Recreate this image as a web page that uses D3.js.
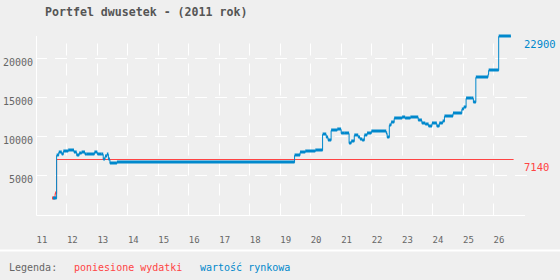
<!DOCTYPE html>
<html>
<head>
<meta charset="utf-8">
<script src="https://cdn.jsdelivr.net/npm/d3@7"></script>
<style>
  body { margin: 0; background: #efefef; }
  svg { display: block; font-family: "DejaVu Sans Mono", monospace; }
</style>
</head>
<body>
<div id="chart"></div>
<script>
const width = 560;
const height = 280;

const title = "Portfel dwusetek - (2011 rok)";
const weekTicks = [11, 12, 13, 14, 15, 16, 17, 18, 19, 20, 21, 22, 23, 24, 25, 26];
const valueTicks = [5000, 10000, 15000, 20000];
const legendTitle = "Legenda:";
const legendNames = ["poniesione wydatki", "wartość rynkowa"];

// wartość rynkowa - tydzień, od którego obowiązuje poziom, i sam poziom
const marketWeek = [11.54, 11.66, 11.73, 11.83, 11.88, 12.04, 12.23, 12.32, 12.40, 12.48,
    12.59, 12.65, 12.90, 13.00, 13.14, 13.19, 13.25, 13.31, 13.36, 13.41,
    13.64, 19.47, 19.65, 19.82, 20.15, 20.39, 20.51, 20.57, 20.67, 20.87,
    21.00, 21.10, 21.26, 21.33, 21.43, 21.56, 21.62, 21.69, 21.76, 21.85,
    21.99, 22.48, 22.51, 22.58, 22.64, 22.74, 23.00, 23.10, 23.27, 23.53,
    23.65, 23.76, 23.87, 23.98, 24.14, 24.22, 24.33, 24.39, 24.67, 24.96,
    25.02, 25.10, 25.29, 25.34, 25.42, 25.82, 25.84, 26.17];
const marketValue = [2150, 7640, 7960, 7800, 8100, 8300, 7950, 7650, 7850, 7950,
    7800, 7720, 7950, 7750, 7780, 7150, 7500, 7750, 7050, 6600,
    6680, 7650, 7980, 8100, 8250, 10280, 9950, 9530, 10810, 10900,
    10380, 10450, 9140, 9360, 10200, 9950, 9700, 9530, 10200, 10500,
    10720, 10400, 9950, 11490, 11800, 12300, 12550, 12400, 12550, 12150,
    11750, 11650, 11320, 11670, 11320, 11670, 12000, 12670, 12970, 13450,
    13760, 14900, 14950, 14370, 17560, 18000, 18460, 22900];
const marketEnd = 26.57;

// poniesione wydatki
const costWeek = [11.51, 11.61, 11.66];
const costValue = [2150, 2800, 7140];
const costEnd = 26.66;

const blue = "#0088cc";
const red = "#ff4444";

const svg = d3.select("#chart")
    .append("svg")
    .attr("width", width)
    .attr("height", height);

const x = d3.scaleLinear().domain([11, 26]).range([36.5, 493.5]);
const y = d3.scaleLinear().domain([0, 22900]).range([214.5, 35.7]);
const px = v => Math.floor(x(v)) + 0.5;
const py = v => Math.round(y(v)) + 0.5;

svg.append("text")
    .attr("x", 45)
    .attr("y", 16)
    .attr("fill", "#555")
    .attr("font-size", "11.6px")
    .attr("font-weight", "bold")
    .text(title);

// siatka
svg.selectAll(".hgrid")
    .data(valueTicks)
    .join("line")
    .attr("class", "hgrid")
    .attr("x1", 36.5)
    .attr("x2", 527)
    .attr("y1", py)
    .attr("y2", py)
    .attr("stroke", "#fff")
    .attr("stroke-dasharray", "12,8")
    .attr("stroke-dashoffset", 1.5);

svg.selectAll(".vgrid")
    .data(weekTicks.slice(1))
    .join("line")
    .attr("class", "vgrid")
    .attr("x1", px)
    .attr("x2", px)
    .attr("y1", py(0))
    .attr("y2", 36)
    .attr("stroke", "#fff")
    .attr("stroke-dasharray", "12,8");

svg.append("line")
    .attr("x1", 36.5).attr("x2", 525)
    .attr("y1", py(0)).attr("y2", py(0))
    .attr("stroke", "#fff");

svg.append("line")
    .attr("x1", 36.5).attr("x2", 36.5)
    .attr("y1", py(0)).attr("y2", 36)
    .attr("stroke", "#fff");

svg.selectAll(".ylab")
    .data(valueTicks)
    .join("text")
    .attr("class", "ylab")
    .attr("x", 33)
    .attr("y", d => py(d) + 7)
    .attr("text-anchor", "end")
    .attr("fill", "#666")
    .attr("font-size", "10px")
    .text(d => d);

svg.selectAll(".xlab")
    .data(weekTicks)
    .join("text")
    .attr("class", "xlab")
    .attr("x", d => x(d))
    .attr("y", 242.5)
    .attr("fill", "#666")
    .attr("font-size", "9px")
    .text(d => d);

function toRuns(weeks, values, end) {
    return weeks.map((w, i) => ({
        from: w,
        to: i < weeks.length - 1 ? weeks[i + 1] : end,
        value: values[i]
    }));
}

function drawSeries(runs, color, thickRuns) {
    const g = svg.append("g");
    const pts = runs.map(r => [r.from, r.value]);
    pts.push([runs[runs.length - 1].to, runs[runs.length - 1].value]);

    g.append("path")
        .datum(pts)
        .attr("fill", "none")
        .attr("stroke", color)
        .attr("stroke-width", 1)
        .attr("d", d3.line().x(d => x(d[0])).y(d => py(d[1])).curve(d3.curveStepAfter));

    g.selectAll("line")
        .data(thickRuns)
        .join("line")
        .attr("x1", d => x(d.from))
        .attr("x2", d => x(d.to))
        .attr("y1", d => Math.round(y(d.value)))
        .attr("y2", d => Math.round(y(d.value)))
        .attr("stroke", color)
        .attr("stroke-width", 3);
}

const costRuns = toRuns(costWeek, costValue, costEnd);
const marketRuns = toRuns(marketWeek, marketValue, marketEnd);

// długa linia wydatków jest cienka
drawSeries(costRuns, red, costRuns.slice(0, -1));
drawSeries(marketRuns, blue, marketRuns);

svg.append("text")
    .attr("x", 524)
    .attr("y", py(marketValue[marketValue.length - 1]) + 11)
    .attr("fill", blue)
    .attr("font-size", "10.5px")
    .text(marketValue[marketValue.length - 1]);

svg.append("text")
    .attr("x", 524)
    .attr("y", py(costValue[costValue.length - 1]) + 11)
    .attr("fill", red)
    .attr("font-size", "10.5px")
    .text(costValue[costValue.length - 1]);

// legenda
svg.append("rect")
    .attr("x", 0).attr("y", 249.5)
    .attr("width", width).attr("height", 2)
    .attr("fill", "#fff");

svg.append("text")
    .attr("x", 9).attr("y", 270.5)
    .attr("fill", "#666")
    .attr("font-size", "10px")
    .text(legendTitle);

svg.selectAll(".leg")
    .data(legendNames)
    .join("text")
    .attr("class", "leg")
    .attr("x", (d, i) => [74, 200][i])
    .attr("y", 270.5)
    .attr("fill", (d, i) => [red, blue][i])
    .attr("font-size", "10px")
    .text(d => d);
</script>
</body>
</html>
